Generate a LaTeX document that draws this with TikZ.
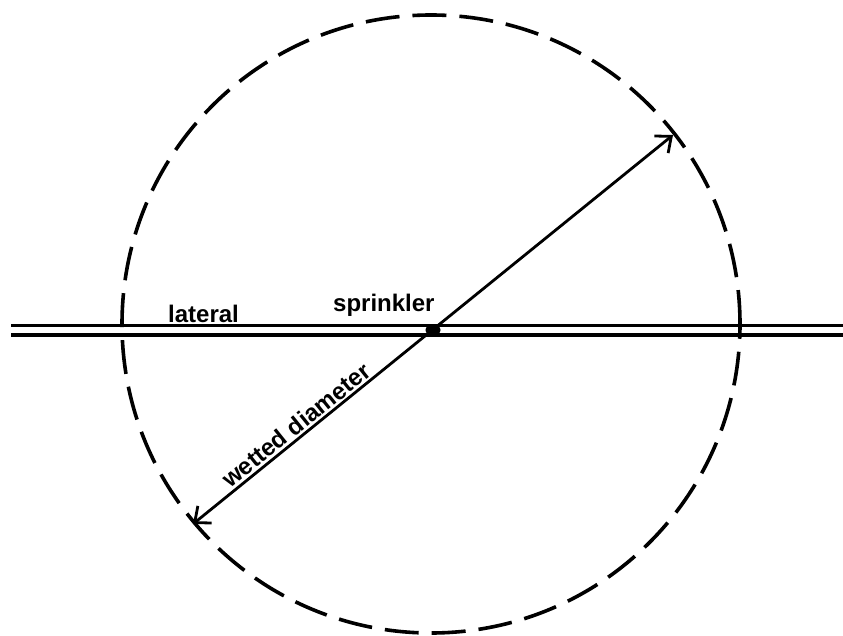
\documentclass[tikz,border=0pt]{standalone}
\usepackage{fontspec}
\setmainfont{Liberation Sans}
\usetikzlibrary{arrows.meta,shapes.geometric}
\tikzset{
  pipe/.style={line width=3.6pt},
  wet/.style={line width=3.6pt, dash pattern=on 34pt off 13pt},
  diam/.style={line width=2.8pt, {Straight Barb[length=13pt,width=22pt,line width=2.8pt]}-{Straight Barb[length=13pt,width=22pt,line width=2.8pt]}},
  lbl/.style={font=\fontsize{24}{28}\selectfont\bfseries, inner sep=0pt}
}
\begin{document}
\begin{tikzpicture}[x=1pt,y=-1pt]
\useasboundingbox (0,0) rectangle (843,636);
\coordinate (C) at (431,324);
\coordinate (L1) at (11,325.5);
\coordinate (R1) at (843,325.5);
\coordinate (L2) at (11,335);
\coordinate (R2) at (843,335);
\coordinate (A) at (193,524);
\coordinate (B) at (673,135);
\draw[wet] (C) circle[radius=309pt];
\draw[pipe] (L1) -- (R1);
\draw[pipe] (L2) -- (R2);
\node[ellipse, fill, inner sep=0pt, minimum width=15pt, minimum height=11pt] (spr) at (433,330) {};
\draw[diam] (A) -- (B);
\node[lbl, anchor=base west] (lat) at (168,322) {lateral};
\node[lbl, anchor=base west] (sprl) at (333,311) {sprinkler};
\node[lbl, rotate=38.8] (wd) at (296,425) {wetted diameter};
\end{tikzpicture}
\end{document}
